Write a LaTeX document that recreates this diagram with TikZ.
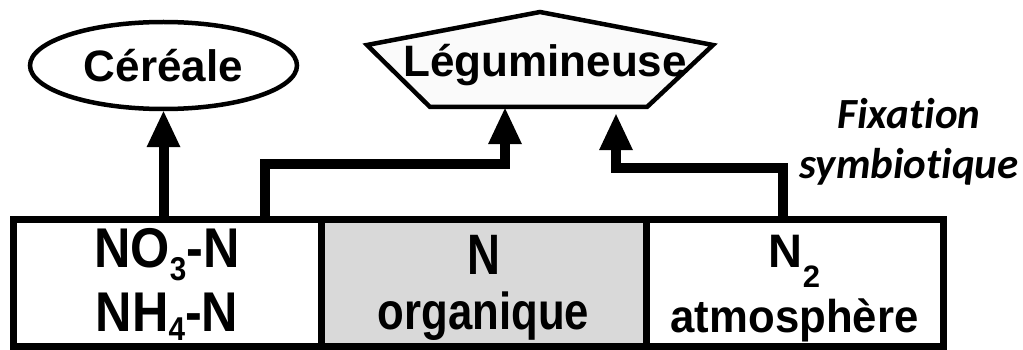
\documentclass[tikz,border=0pt]{standalone}
\usepackage{fontspec}
\setmainfont{Liberation Sans}
\newfontfamily\calib[Ligatures=NoCommon]{Carlito}
\usetikzlibrary{shapes.geometric, arrows.meta}

\newcommand\squeeze[3]{\scalebox{#1}[1]{\fontsize{#2}{#2}\selectfont #3}}
\newcommand\lowsub[3]{\raisebox{-#1}{\fontsize{#2}{#2}\selectfont #3}}

\begin{document}
\begin{tikzpicture}[x=1pt,y=-1pt,
	big/.style={font=\fontsize{44}{65}\selectfont\bfseries},
	pool/.style={draw,line width=7pt,minimum height=127pt,inner sep=0pt,outer sep=0pt,align=center,text depth=5pt},
	flow/.style={line width=10pt,-{Triangle[width=34pt,length=36pt,line width=0pt]}}]
\useasboundingbox (0,0) rectangle (1023,350);
%\draw[help lines] (0,0) grid (1023,350);
	% les trois reservoirs
	\node[pool,minimum width=308pt,font=\fontsize{56}{64}\selectfont\bfseries,text height=102pt] (nmin) at (167,282.5)
		{\squeeze{0.9}{56}{NO\lowsub{13pt}{33}{3}-N}\\\squeeze{0.9}{56}{NH\lowsub{9pt}{33}{4}-N}};
	\node[pool,minimum width=325pt,fill=black!15,font=\fontsize{52}{55}\selectfont\bfseries,text height=98pt] (norg) at (483.5,282.5)
		{\squeeze{0.8}{57}{N}\\\squeeze{0.84}{52}{organique}};
	\node[pool,minimum width=297pt,font=\fontsize{46}{65}\selectfont\bfseries,text height=104pt] (natm) at (794.5,282.5)
		{\squeeze{1}{47}{N\lowsub{20pt}{31}{2}}\\\squeeze{0.95}{46}{atmosphère}};
	% les plantes
	\node[draw,ellipse,line width=4.5pt,minimum width=267pt,minimum height=87pt,inner sep=0pt,big] (cereale) at (163.5,65.5) {Céréale};
	\draw[line width=4.5pt,fill=black!2] (540,12) -- (713,45) -- (647,107) -- (430,107) -- (367,45) -- cycle;
	\node[big,minimum height=86pt,inner sep=0pt] (legum) at (545,65) {Légumineuse};
	\node[font=\calib\bfseries\itshape\fontsize{43}{50}\selectfont,align=center] (fix) at (909,142) {Fixation\\symbiotique};
	% les fleches
	\draw[flow] (cereale.south |- nmin.north) -- (cereale.south);
	\draw[flow] ([xshift=98pt]nmin.north) |- ([xshift=-40pt,yshift=-56pt]legum.south) -- ([xshift=-40pt]legum.south);
	\draw[flow] ([xshift=-12pt]natm.north) |- ([xshift=71pt,yshift=-60pt]legum.south) -- ([xshift=71pt,yshift=-6pt]legum.south);
\end{tikzpicture}
\end{document}
